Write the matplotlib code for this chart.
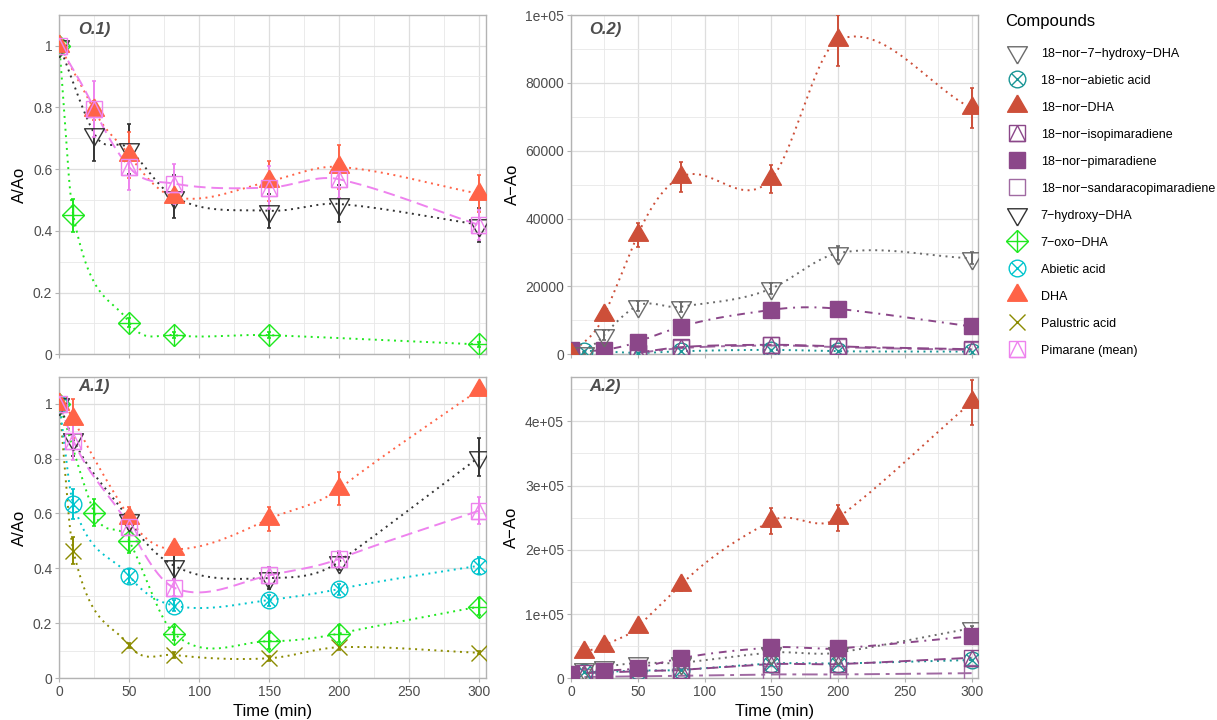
import numpy as np
import matplotlib
matplotlib.use('Agg')
import matplotlib.pyplot as plt
from matplotlib.lines import Line2D
from matplotlib.legend_handler import HandlerTuple
from matplotlib.ticker import MultipleLocator, FuncFormatter

plt.rcParams['font.family'] = ['Liberation Sans', 'DejaVu Sans']

MINUS = '\u2212'

# -----------------------------------------------------------------------------
# data  (time in min, value, error)

# O.1) relative abundance A/Ao
o1_hyd_t = [0, 25, 50, 82, 150, 200, 300]
o1_hyd_y = [1.0, 0.715, 0.665, 0.51, 0.465, 0.487, 0.42]
o1_hyd_e = [0, 0.09, 0.08, 0.07, 0.055, 0.06, 0.055]

o1_dha_t = [0, 25, 50, 82, 150, 200, 300]
o1_dha_y = [1.0, 0.79, 0.645, 0.51, 0.56, 0.607, 0.52]
o1_dha_e = [0, 0.03, 0.075, 0.02, 0.065, 0.07, 0.06]

o1_pim_t = [0, 25, 50, 82, 150, 200, 300]
o1_pim_y = [1.0, 0.795, 0.606, 0.553, 0.54, 0.567, 0.419]
o1_pim_e = [0, 0.09, 0.075, 0.065, 0.07, 0.06, 0.05]

o1_oxo_t = [0, 10, 50, 82, 150, 300]
o1_oxo_y = [1.0, 0.45, 0.103, 0.062, 0.062, 0.032]
o1_oxo_e = [0, 0.053, 0.015, 0.01, 0.01, 0.008]

# O.2) absolute increase A-Ao
o2_ndha_t = [0, 25, 50, 82, 150, 200, 300]
o2_ndha_y = [0, 11600, 35200, 52200, 51700, 92600, 72500]
o2_ndha_e = [0, 800, 3500, 4400, 4200, 7500, 5900]

o2_nhyd_t = [10, 25, 50, 82, 150, 200, 300]
o2_nhyd_y = [500, 5700, 14300, 14000, 19400, 29800, 28300]
o2_nhyd_e = [300, 1500, 1500, 1500, 1500, 2000, 1800]

o2_npim_t = [0, 25, 50, 82, 150, 200, 300]
o2_npim_y = [1200, 1300, 3700, 8100, 13100, 13400, 8200]
o2_npim_e = [0, 0, 0, 0, 0, 0, 0]

o2_niso_t = [50, 82, 150, 200, 300]
o2_niso_y = [500, 2100, 2800, 2300, 1500]
o2_niso_e = [0, 0, 0, 0, 0]

o2_nsan_t = [50, 82, 150, 200, 300]
o2_nsan_y = [400, 1800, 2600, 2100, 1300]
o2_nsan_e = [0, 0, 0, 0, 0]

o2_nabi_t = [0, 10, 50, 82, 150, 200, 300]
o2_nabi_y = [200, 1000, 400, 900, 1300, 900, 800]
o2_nabi_e = [0, 0, 0, 0, 0, 0, 0]

# A.1) relative abundance A/Ao
a1_hyd_t = [0, 10, 50, 82, 150, 200, 300]
a1_hyd_y = [1.0, 0.87, 0.575, 0.41, 0.365, 0.425, 0.805]
a1_hyd_e = [0, 0.06, 0.03, 0.05, 0.04, 0.03, 0.07]

a1_dha_t = [0, 10, 50, 82, 150, 200, 300]
a1_dha_y = [1.0, 0.945, 0.585, 0.47, 0.58, 0.69, 1.05]
a1_dha_e = [0, 0.07, 0.04, 0.02, 0.045, 0.06, 0.01]

a1_pim_t = [0, 10, 50, 82, 150, 200, 300]
a1_pim_y = [1.0, 0.865, 0.55, 0.33, 0.375, 0.435, 0.61]
a1_pim_e = [0, 0.07, 0.03, 0.03, 0.03, 0.03, 0.05]

a1_abi_t = [0, 10, 50, 82, 150, 200, 300]
a1_abi_y = [1.0, 0.635, 0.372, 0.265, 0.285, 0.325, 0.41]
a1_abi_e = [0, 0.055, 0.025, 0.02, 0.02, 0.02, 0.03]

a1_oxo_t = [0, 25, 50, 82, 150, 200, 300]
a1_oxo_y = [1.0, 0.603, 0.50, 0.163, 0.135, 0.163, 0.261]
a1_oxo_e = [0, 0.05, 0.045, 0.025, 0.03, 0.03, 0.03]

a1_pal_t = [0, 10, 50, 82, 150, 200, 300]
a1_pal_y = [1.0, 0.465, 0.12, 0.085, 0.073, 0.113, 0.093]
a1_pal_e = [0, 0.05, 0.01, 0.01, 0.01, 0.01, 0.005]

# A.2) absolute increase A-Ao
a2_ndha_t = [10, 25, 50, 82, 150, 200, 300]
a2_ndha_y = [41500, 51000, 80000, 145000, 245000, 250000, 430000]
a2_ndha_e = [4000, 4000, 5000, 9000, 20000, 20000, 35000]

a2_nhyd_t = [10, 25, 50, 82, 150, 200, 300]
a2_nhyd_y = [15000, 18000, 24000, 24000, 40000, 40000, 78000]
a2_nhyd_e = [1500, 1500, 2000, 2000, 3000, 3000, 4000]

a2_npim_t = [0, 25, 50, 82, 150, 200, 300]
a2_npim_y = [6000, 11500, 16000, 31000, 48000, 46500, 65500]
a2_npim_e = [0, 0, 0, 0, 0, 0, 0]

a2_niso_t = [10, 25, 50, 82, 150, 200, 300]
a2_niso_y = [8000, 9000, 11000, 13000, 22000, 22000, 32000]
a2_niso_e = [0, 0, 0, 0, 0, 0, 0]

a2_nsan_t = [10, 25, 50, 82, 150, 200, 300]
a2_nsan_y = [2000, 2500, 3000, 4000, 6000, 6000, 8000]
a2_nsan_e = [0, 0, 0, 0, 0, 0, 0]

a2_nabi_t = [10, 25, 50, 82, 150, 200, 300]
a2_nabi_y = [10000, 10000, 12000, 13000, 23000, 23000, 28500]
a2_nabi_e = [0, 0, 0, 0, 0, 0, 0]

compounds = ['18-nor-7-hydroxy-DHA', '18-nor-abietic acid', '18-nor-DHA',
             '18-nor-isopimaradiene', '18-nor-pimaradiene',
             '18-nor-sandaracopimaradiene', '7-hydroxy-DHA', '7-oxo-DHA',
             'Abietic acid', 'DHA', 'Palustric acid', 'Pimarane (mean)']

# -----------------------------------------------------------------------------
# styles (colour, marker kind, line style)

DOT = (0, (1, 2.3))
LDASH = (0, (6, 3))
DOTDASH = (0, (4, 3, 1, 3))
TWODASH = (0, (8, 3, 2, 3))

style = {
    '18-nor-7-hydroxy-DHA':        ('#6B6B6B', 'tri_down', DOT),
    '18-nor-abietic acid':         ('#1A9696', 'circ_x', DOT),
    '18-nor-DHA':                  ('#CD4F39', 'tri_up', DOT),
    '18-nor-isopimaradiene':       ('#8B4789', 'sq_tri', LDASH),
    '18-nor-pimaradiene':          ('#8B4789', 'sq_fill', DOTDASH),
    '18-nor-sandaracopimaradiene': ('#A06AA2', 'sq_open', TWODASH),
    '7-hydroxy-DHA':               ('#333333', 'tri_down', DOT),
    '7-oxo-DHA':                   ('#1EE81E', 'dia_plus', DOT),
    'Abietic acid':                ('#00C5CD', 'circ_x', DOT),
    'DHA':                         ('#FF6347', 'tri_up', DOT),
    'Palustric acid':              ('#8B8B00', 'x', DOT),
    'Pimarane (mean)':             ('#EE82EE', 'sq_tri', LDASH),
}

TRI_UP = [(0, 1.1547), (-1, -0.5774), (1, -0.5774), (0, 1.1547)]
TRI_DOWN = [(0, -1.1547), (-1, 0.5774), (1, 0.5774), (0, -1.1547)]


def marker_parts(kind, color):
    # list of Line2D kwargs that together form one ggplot-like point shape
    o = dict(color=color, linestyle='none', markeredgewidth=1.0)
    if kind == 'tri_down':
        return [dict(o, marker=TRI_DOWN, markersize=16.5, markerfacecolor='none')]
    if kind == 'tri_up':
        return [dict(o, marker=TRI_UP, markersize=16.5, markerfacecolor=color)]
    if kind == 'circ_x':
        return [dict(o, marker='o', markersize=12, markerfacecolor='none'),
                dict(o, marker='x', markersize=12 / 1.414)]
    if kind == 'sq_tri':
        return [dict(o, marker='s', markersize=11, markerfacecolor='none'),
                dict(o, marker='^', markersize=11, markerfacecolor='none')]
    if kind == 'sq_fill':
        return [dict(o, marker='s', markersize=11, markerfacecolor=color)]
    if kind == 'sq_open':
        return [dict(o, marker='s', markersize=11, markerfacecolor='none')]
    if kind == 'dia_plus':
        return [dict(o, marker='D', markersize=11, markerfacecolor='none'),
                dict(o, marker='+', markersize=15.5)]
    return [dict(o, marker='x', markersize=12)]


def smooth_curve(x, y, tension=1.25, num=400):
    # cardinal (Catmull-Rom like) Hermite curve through the points
    x = np.asarray(x, float)
    y = np.asarray(y, float)
    n = len(x)
    if n < 3:
        return x, y
    m = np.zeros(n)
    m[0] = (y[1] - y[0]) / (x[1] - x[0])
    m[-1] = (y[-1] - y[-2]) / (x[-1] - x[-2])
    m[1:-1] = tension * (y[2:] - y[:-2]) / (x[2:] - x[:-2])
    xs = np.linspace(x[0], x[-1], num)
    k = np.clip(np.searchsorted(x, xs) - 1, 0, n - 2)
    h = x[k + 1] - x[k]
    s = (xs - x[k]) / h
    h00 = 2 * s ** 3 - 3 * s ** 2 + 1
    h10 = s ** 3 - 2 * s ** 2 + s
    h01 = -2 * s ** 3 + 3 * s ** 2
    h11 = s ** 3 - s ** 2
    ys = h00 * y[k] + h10 * h * m[k] + h01 * y[k + 1] + h11 * h * m[k + 1]
    return xs, ys


def draw_series(ax, name, t, y, e):
    color, kind, ls = style[name]
    xs, ys = smooth_curve(t, y)
    ax.plot(xs, ys, color=color, linestyle=ls, linewidth=1.4, zorder=2)
    if any(v > 0 for v in e):
        ax.errorbar(t, y, yerr=e, fmt='none', ecolor=color, elinewidth=1.4,
                    capsize=1.5, capthick=1.2, zorder=3)
    for kw in marker_parts(kind, color):
        ax.plot(t, y, zorder=4, **kw)


def fmt_sci(v, pos):
    if v == 0:
        return '0'
    if v >= 1e5:
        return '%.0e' % v
    return '%g' % v


def style_axis(ax, ymax, ymaj, ymin, tag, ylabel, bottom, sci=False):
    ax.set_xlim(0, 305)
    ax.set_ylim(0, ymax)
    ax.xaxis.set_major_locator(MultipleLocator(50))
    ax.xaxis.set_minor_locator(MultipleLocator(25))
    ax.yaxis.set_major_locator(MultipleLocator(ymaj))
    ax.yaxis.set_minor_locator(MultipleLocator(ymin))
    ax.grid(which='major', color='#DEDEDE', linewidth=0.9, zorder=0)
    ax.grid(which='minor', color='#E8E8E8', linewidth=0.6, zorder=0)
    ax.set_axisbelow(True)
    for s in ax.spines.values():
        s.set_color('#B3B3B3')
        s.set_linewidth(1.0)
    ax.tick_params(which='major', length=3, width=0.8, color='#B3B3B3',
                   labelcolor='#4D4D4D', labelsize=10, pad=2)
    ax.tick_params(which='minor', length=0)
    if sci:
        ax.yaxis.set_major_formatter(FuncFormatter(fmt_sci))
    else:
        ax.yaxis.set_major_formatter(FuncFormatter(lambda v, p: '%g' % round(v, 2)))
    if bottom:
        ax.set_xlabel('Time (min)', fontsize=12, labelpad=3.5)
    else:
        ax.tick_params(axis='x', labelbottom=False)
    ax.set_ylabel(ylabel, fontsize=12, labelpad=4)
    ax.text(0.044, 0.958 if not bottom else 0.967, tag, transform=ax.transAxes,
            fontsize=12, fontweight='bold', fontstyle='italic', color='#4D4D4D',
            va='center', ha='left')


W, H = 1217, 720
fig = plt.figure(figsize=(W / 100, H / 100), dpi=100)


def add_ax(l, r, t, b):
    return fig.add_axes([l / W, 1 - b / H, (r - l) / W, (b - t) / H])


ax_o1 = add_ax(59.3, 486, 15, 354.3)
ax_o2 = add_ax(571, 978.3, 15, 354.3)
ax_a1 = add_ax(59.3, 486, 376.7, 678.3)
ax_a2 = add_ax(571, 978.3, 376.7, 678.3)

draw_series(ax_o1, '7-oxo-DHA', o1_oxo_t, o1_oxo_y, o1_oxo_e)
draw_series(ax_o1, '7-hydroxy-DHA', o1_hyd_t, o1_hyd_y, o1_hyd_e)
draw_series(ax_o1, 'DHA', o1_dha_t, o1_dha_y, o1_dha_e)
draw_series(ax_o1, 'Pimarane (mean)', o1_pim_t, o1_pim_y, o1_pim_e)

draw_series(ax_o2, '18-nor-abietic acid', o2_nabi_t, o2_nabi_y, o2_nabi_e)
draw_series(ax_o2, '18-nor-sandaracopimaradiene', o2_nsan_t, o2_nsan_y, o2_nsan_e)
draw_series(ax_o2, '18-nor-isopimaradiene', o2_niso_t, o2_niso_y, o2_niso_e)
draw_series(ax_o2, '18-nor-pimaradiene', o2_npim_t, o2_npim_y, o2_npim_e)
draw_series(ax_o2, '18-nor-7-hydroxy-DHA', o2_nhyd_t, o2_nhyd_y, o2_nhyd_e)
draw_series(ax_o2, '18-nor-DHA', o2_ndha_t, o2_ndha_y, o2_ndha_e)

draw_series(ax_a1, 'Palustric acid', a1_pal_t, a1_pal_y, a1_pal_e)
draw_series(ax_a1, '7-oxo-DHA', a1_oxo_t, a1_oxo_y, a1_oxo_e)
draw_series(ax_a1, 'Abietic acid', a1_abi_t, a1_abi_y, a1_abi_e)
draw_series(ax_a1, '7-hydroxy-DHA', a1_hyd_t, a1_hyd_y, a1_hyd_e)
draw_series(ax_a1, 'DHA', a1_dha_t, a1_dha_y, a1_dha_e)
draw_series(ax_a1, 'Pimarane (mean)', a1_pim_t, a1_pim_y, a1_pim_e)

draw_series(ax_a2, '18-nor-sandaracopimaradiene', a2_nsan_t, a2_nsan_y, a2_nsan_e)
draw_series(ax_a2, '18-nor-abietic acid', a2_nabi_t, a2_nabi_y, a2_nabi_e)
draw_series(ax_a2, '18-nor-isopimaradiene', a2_niso_t, a2_niso_y, a2_niso_e)
draw_series(ax_a2, '18-nor-7-hydroxy-DHA', a2_nhyd_t, a2_nhyd_y, a2_nhyd_e)
draw_series(ax_a2, '18-nor-pimaradiene', a2_npim_t, a2_npim_y, a2_npim_e)
draw_series(ax_a2, '18-nor-DHA', a2_ndha_t, a2_ndha_y, a2_ndha_e)

style_axis(ax_o1, 1.099, 0.2, 0.1, 'O.1)', 'A/Ao', False)
style_axis(ax_o2, 1.0e5, 20000, 10000, 'O.2)', 'A' + MINUS + 'Ao', False, sci=True)
style_axis(ax_a1, 1.098, 0.2, 0.1, 'A.1)', 'A/Ao', True)
style_axis(ax_a2, 4.695e5, 1e5, 5e4, 'A.2)', 'A' + MINUS + 'Ao', True, sci=True)

# legend: point shapes of each compound, parts drawn on top of each other
handles = []
for name in compounds:
    color, kind, ls = style[name]
    handles.append(tuple(Line2D([], [], **kw) for kw in marker_parts(kind, color)))
labels = [c.replace('-', MINUS) for c in compounds]
leg = fig.legend(handles, labels, loc='upper left', bbox_to_anchor=(1000 / W, 1 - 9 / H),
                 frameon=False, fontsize=9, title='Compounds', title_fontsize=12,
                 handler_map={tuple: HandlerTuple(ndivide=1, pad=0)},
                 handlelength=1.92, handletextpad=0.94, labelspacing=1.2,
                 alignment='left', borderaxespad=0)
# a little more room between the title and the first key
leg._legend_box.sep = leg._legend_box.sep + 2.6

fig.savefig('out.png', dpi=100)
